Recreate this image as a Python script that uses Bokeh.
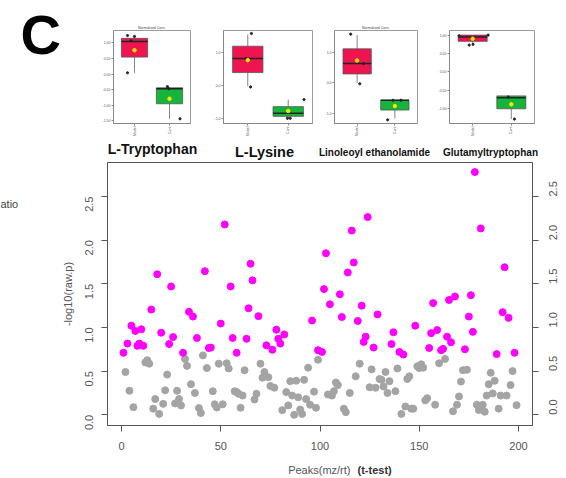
import math
from bokeh.plotting import figure
from bokeh.layouts import row, column
from bokeh.models import Range1d, FixedTicker, Label, LinearAxis, NumeralTickFormatter
from bokeh.embed import file_html
from bokeh.resources import INLINE

FONT = "Liberation Sans"

# ---------------- main t-test scatter data ----------------
sig_x = [1, 3, 5, 7, 8, 9, 10, 11, 15, 18, 20, 24, 25, 26, 31, 34, 36, 38, 42, 44, 45, 50, 52, 55, 56, 58,
         63, 64, 65, 66, 69, 73, 76, 78, 79, 80, 82, 96, 99, 101, 102, 103, 105, 110, 111, 114, 116, 117,
         119, 121, 122, 123, 124, 127, 129, 136, 137, 140, 142, 148, 155, 156, 157, 159, 161, 162, 164,
         165, 166, 168, 173, 175, 176, 177, 178, 181, 189, 192, 193, 195, 198]
sig_y = [0.71, 0.815, 1.02, 0.96, 0.79, 0.815, 0.98, 0.79, 1.205, 1.61, 0.94, 0.81, 1.47, 0.89, 0.71, 1.18,
         1.125, 0.88, 1.645, 0.765, 0.77, 1.045, 2.18, 1.47, 0.88, 0.71, 0.87, 1.22, 1.73, 1.54, 1.13, 0.795,
         0.745, 0.975, 0.87, 0.815, 0.92, 1.08, 0.74, 0.72, 1.44, 1.85, 1.265, 1.38, 1.12, 1.63, 2.11, 1.745,
         1.075, 1.25, 0.835, 0.895, 2.265, 0.77, 1.15, 0.81, 0.945, 0.72, 0.69, 1.02, 0.765, 0.935, 1.28,
         0.97, 0.74, 0.755, 0.895, 1.315, 0.83, 1.355, 0.75, 1.125, 1.37, 0.95, 2.78, 2.135, 0.695, 1.175,
         1.69, 1.11, 0.71]
ns_x = [2, 4, 6, 12, 13, 14, 16, 17, 19, 21, 22, 23, 27, 28, 29, 30, 32, 33, 35, 37, 39, 40, 41, 43, 46,
        47, 48, 49, 51, 53, 54, 57, 58, 59, 60, 61, 62, 67, 68, 70, 71, 72, 74, 75, 77, 81, 83, 84, 85, 86,
        87, 88, 89, 90, 91, 92, 93, 94, 95, 97, 98, 99, 104, 106, 107, 108, 109, 112, 113, 115, 118, 120,
        125, 126, 128, 130, 131, 132, 133, 134, 135, 138, 139, 141, 143, 144, 145, 146, 147, 149, 150, 151,
        152, 153, 154, 158, 160, 163, 167, 169, 170, 171, 172, 174, 179, 180, 181, 182, 183, 184, 185, 186,
        187, 188, 190, 191, 194, 196, 197, 199]
ns_y = [0.49, 0.275, 0.087, 0.60, 0.625, 0.585, 0.07, 0.18, 0.01, 0.125, 0.28, 0.46, 0.13, 0.275, 0.18,
        0.107, 0.64, 0.56, 0.35, 0.25, 0.077, 0.02, 0.68, 0.535, 0.27, 0.12, 0.084, 0.585, 0.12, 0.59, 0.53,
        0.27, 0.26, 0.24, 0.08, 0.22, 0.51, 0.175, 0.24, 0.585, 0.425, 0.49, 0.43, 0.33, 0.31, 0.053, 0.26,
        0.107, 0.385, 0.22, 0.0, 0.39, 0.2, 0.06, 0.01, 0.4, 0.18, 0.54, 0.115, 0.265, 0.08, 0.63, 0.233,
        0.22, 0.27, 0.37, 0.34, 0.07, 0.03, 0.25, 0.44, 0.585, 0.315, 0.52, 0.31, 0.41, 0.40, 0.325, 0.49,
        0.25, 0.385, 0.27, 0.53, 0.01, 0.095, 0.41, 0.44, 0.07, 0.07, 0.555, 0.535, 0.578, 0.54, 0.165, 0.19,
        0.115, 0.59, 0.64, 0.04, 0.115, 0.21, 0.38, 0.51, 0.515, 0.115, 0.055, 0.07, 0.115, 0.035, 0.22, 0.35,
        0.48, 0.245, 0.39, 0.07, 0.22, 0.22, 0.34, 0.5, 0.11]
x_ticks = [0, 50, 100, 150, 200]
y_ticks = [0.0, 0.5, 1.0, 1.5, 2.0, 2.5]

# ---------------- box-plot panels data ----------------
groups = ["Model", "Cont"]
box_names = ["L-Tryptophan", "L-Lysine", "Linoleoyl ethanolamide", "Glutamyltryptophan"]
box_q1 = [[0.54, -0.95], [0.39, -0.92], [0.29, -0.89], [0.83, -1.0]]
box_med = [[1.04, -0.47], [0.81, -0.83], [0.63, -0.57], [0.95, -0.70]]
box_q3 = [[1.14, -0.44], [1.18, -0.63], [1.11, -0.57], [1.00, -0.65]]
box_lo = [[0.04, -1.43], [-0.02, -0.97], [0.0, -1.17], [0.75, -1.28]]
box_hi = [[1.20, -0.44], [1.53, -0.42], [1.56, -0.57], [1.00, -0.65]]
box_mean = [[0.76, -0.79], [0.76, -0.76], [0.73, -0.76], [0.90, -0.88]]
pts_x = [[0.8, 1.0, 0.9, 0.8, 1.94, 2.3, 1.98],
         [1.09, 1.07, 0.95, 2.05, 1.98, 2.39],
         [0.83, 1.07, 1.17, 1.81, 2.16, 1.95],
         [0.65, 1.4, 0.91, 1.01, 2.08, 1.92]]
pts_y = [[1.23, 1.20, 1.06, 0.04, -0.40, -1.43, -0.47],
         [1.56, -0.04, 0.81, -0.98, -0.98, -0.42],
         [1.59, -0.03, 0.63, -1.21, -0.57, -0.57],
         [0.98, 1.0, 0.73, 0.75, -1.28, -0.68]]
tick_vals = [[1.0, 0.5, 0.0, -0.5, -1.0, -1.5], [1.0, 0.0, -1.0], [1.0, 0.0, -1.0], [1.0, 0.5, 0.0, -0.5, -1.0]]
tick_txt = [["1.00", "0.50", "0.00", "-0.50", "-1.00", "-1.50"], ["1.0", "0.0", "-1.0"],
            ["1.0", "0.0", "-1.0"], ["1.00", "0.50", "0.00", "-0.50", "-1.00"]]
panel_title = ["Normalized Conc.", "", "Normalized Conc.", ""]

# layout parameters (pixels / ranges)
TOP_H = 141
P_W = [112, 115, 113, 131]
P_L = [18, 16, 12, 14]
P_R = [17, 10, 18, 32]
P_T = [29, 25, 30, 23]
P_B = [18, 13, 15, 17]
P_YR = [(-1.58, 1.39), (-1.135, 1.65), (-1.33, 1.71), (-1.4, 1.125)]
NAME_PX = [152, 264, 374, 490]
NAME_PY = [7, 10, 11, 11]
NAME_SIZE = ["14px", "14.5px", "10px", "10px"]
BOX_COLORS = ["#EE1450", "#15B43C"]


def blank(w, h, title=None):
    f = figure(width=w, height=h, x_range=Range1d(0, w), y_range=Range1d(h, 0), title=title,
               output_backend="svg", toolbar_location=None, x_axis_type=None, y_axis_type=None,
               min_border=0)
    f.grid.visible = False
    f.outline_line_color = None
    return f


def make_panel(i):
    q = figure(width=P_W[i], height=TOP_H, x_range=Range1d(0.4, 2.6), y_range=Range1d(*P_YR[i]),
               output_backend="svg", toolbar_location=None,
               min_border_left=P_L[i], min_border_right=P_R[i], min_border_top=P_T[i], min_border_bottom=P_B[i])
    q.grid.visible = False
    q.outline_line_color = "#9a9a9a"
    xs = [1, 2]
    q.segment(x0=xs, x1=xs, y0=box_q3[i], y1=box_hi[i], line_color="#666666", line_width=0.8)
    q.segment(x0=xs, x1=xs, y0=box_q1[i], y1=box_lo[i], line_color="#666666", line_width=0.8)
    q.vbar(x=xs, width=0.75, top=box_q3[i], bottom=box_q1[i], fill_color=BOX_COLORS,
           line_color="#555555", line_width=0.8)
    q.segment(x0=[x - 0.375 for x in xs], x1=[x + 0.375 for x in xs], y0=box_med[i], y1=box_med[i],
              line_color="#222222", line_width=1.6)
    q.scatter(pts_x[i], pts_y[i], size=2.2, color="#222222")
    q.scatter(xs, box_mean[i], size=3.5, color="#FFE600")
    for ax in (q.xaxis[0], q.yaxis[0]):
        ax.axis_line_color = "#888888"
        ax.major_tick_line_color = "#888888"
        ax.major_tick_out = 2
        ax.major_tick_in = 0
        ax.minor_tick_line_color = None
        ax.major_label_text_font_size = "3.5px"
        ax.major_label_text_color = "#555555"
        ax.major_label_text_font = FONT
        ax.major_label_standoff = 1
    q.yaxis.ticker = FixedTicker(ticks=tick_vals[i])
    q.yaxis.major_label_overrides = {v: t for v, t in zip(tick_vals[i], tick_txt[i])}
    q.xaxis.ticker = FixedTicker(ticks=[1, 2])
    q.xaxis.major_label_overrides = {1: groups[0], 2: groups[1]}
    q.xaxis.major_label_orientation = math.pi / 2
    if panel_title[i]:
        q.title.text = panel_title[i]
        q.title.align = "center"
        q.title.text_font_size = "3.5px"
        q.title.text_font_style = "normal"
        q.title.text_color = "#444444"
        q.title.text_font = FONT
        q.title.standoff = 1
    return q


# ---------------- top row: letter + boxplots ----------------
fc = blank(95, TOP_H, title="C")
fc.title.text_font_size = "56px"
fc.title.text_font_style = "bold"
fc.title.text_font = FONT
fc.title.text_color = "black"
fc.title.align = "left"
fc.title.offset = 20
fc.title.standoff = 0
panels = [make_panel(i) for i in range(4)]
# nest so that the letter figure does not take part in the frame alignment of the panels
top = row(column(fc), column(row(*panels)))

names = blank(566, 19)
for i in range(4):
    names.add_layout(Label(x=NAME_PX[i], y=NAME_PY[i], text=box_names[i], text_align="center",
                           text_baseline="middle", text_font_size=NAME_SIZE[i], text_font_style="bold",
                           text_color="#111111", text_font=FONT))

# ---------------- main scatter ----------------
left = blank(40, 295)
left.add_layout(Label(x=0, y=47, text="atio", text_align="left", text_baseline="middle",
                      text_font_size="11px", text_color="#444444", text_font=FONT))

p = figure(width=526, height=295, x_range=Range1d(-7.05, 207.05), y_range=Range1d(-0.123, 2.89),
           output_backend="svg", toolbar_location=None,
           min_border_left=67, min_border_right=34, min_border_top=2, min_border_bottom=30)
p.grid.visible = False
p.outline_line_color = "#555555"
p.add_layout(LinearAxis(), "right")

p.scatter(ns_x, ns_y, size=7, color="#A4A4A4")
p.scatter(sig_x, sig_y, size=7, color="#FF00FF")

for ax in p.xaxis + p.yaxis:
    ax.axis_line_color = "#555555"
    ax.major_tick_line_color = "#555555"
    ax.major_tick_out = 6
    ax.major_tick_in = 0
    ax.minor_tick_line_color = None
    ax.major_label_text_font = FONT
    ax.major_label_text_font_size = "11px"
    ax.major_label_text_color = "#555555"
for ax in p.yaxis:
    ax.ticker = FixedTicker(ticks=y_ticks)
    ax.formatter = NumeralTickFormatter(format="0.0")
    ax.major_label_orientation = math.pi / 2
p.yaxis[0].major_label_standoff = 12
p.yaxis[1].major_label_standoff = 15
p.xaxis.ticker = FixedTicker(ticks=x_ticks)
p.xaxis.major_label_standoff = 10
p.yaxis[0].axis_label = "-log10(raw.p)"
p.yaxis[0].axis_label_text_font = FONT
p.yaxis[0].axis_label_text_font_size = "11px"
p.yaxis[0].axis_label_text_font_style = "normal"
p.yaxis[0].axis_label_text_color = "#555555"
p.yaxis[0].axis_label_standoff = 5

bottom = blank(566, 23)
bottom.add_layout(Label(x=350, y=14, text="Peaks(mz/rt)", text_align="right", text_baseline="middle",
                        text_font_size="11px", text_color="#555555", text_font=FONT))
bottom.add_layout(Label(x=357, y=14, text="(t-test)", text_align="left", text_baseline="middle",
                        text_font_size="11px", text_font_style="bold", text_color="#333333",
                        text_font=FONT))

layout = column(top, names, row(left, p), bottom)
open("out.html", "w").write(file_html(layout, INLINE))
